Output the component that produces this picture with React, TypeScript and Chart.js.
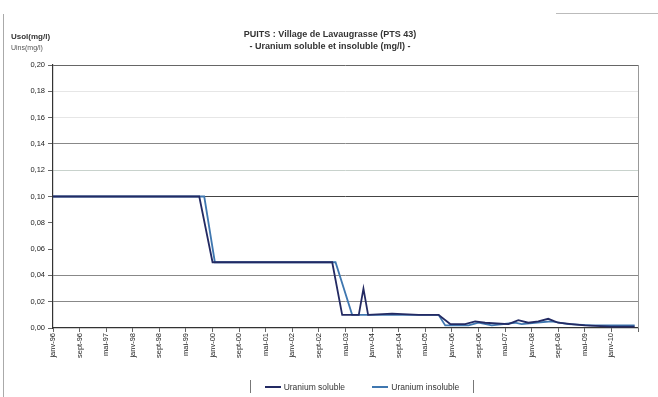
import React, { useEffect, useRef } from "react";
import { Chart, registerables } from "chart.js";

Chart.register(...registerables);

// Months counted from January 1996; tick labels every 8 months
const X_TICK_LABELS = [
  "janv-96", "sept-96", "mai-97", "janv-98", "sept-98", "mai-99",
  "janv-00", "sept-00", "mai-01", "janv-02", "sept-02", "mai-03",
  "janv-04", "sept-04", "mai-05", "janv-06", "sept-06", "mai-07",
  "janv-08", "sept-08", "mai-09", "janv-10",
];
const Y_TICK_LABELS = ["0,00", "0,02", "0,04", "0,06", "0,08", "0,10", "0,12", "0,14", "0,16", "0,18", "0,20"];

const SOLUBLE_MONTHS = [0, 44, 48, 84, 87, 92, 93.4, 94.8, 102, 110, 116, 119.5, 124, 127, 130, 137, 140, 143, 146, 149, 152, 156, 160, 168, 175];
const SOLUBLE_VALUES = [0.1, 0.1, 0.05, 0.05, 0.01, 0.01, 0.03, 0.01, 0.011, 0.01, 0.01, 0.003, 0.003, 0.005, 0.004, 0.003, 0.006, 0.004, 0.005, 0.007, 0.004, 0.003, 0.002, 0.001, 0.001];

const INSOLUBLE_MONTHS = [0, 45.5, 48.7, 85, 90, 100, 116, 118, 125, 128, 132, 139, 141, 145, 150, 155, 162, 170, 175];
const INSOLUBLE_VALUES = [0.1, 0.1, 0.05, 0.05, 0.01, 0.01, 0.01, 0.002, 0.002, 0.004, 0.002, 0.004, 0.003, 0.004, 0.005, 0.003, 0.002, 0.002, 0.002];

const SOLUBLE_COLOR = "#232a63";
const INSOLUBLE_COLOR = "#3f77b0";

const FONT = "'Liberation Sans', Arial, sans-serif";

const gridShade = (i: number) => {
  if (i === 10) return "#666";
  if (i === 5) return "#444";
  if (i === 7 || i === 2 || i === 1) return "#888";
  if (i === 6) return "#c8d2cc";
  if (i === 8 || i === 9) return "#e6e6e6";
  return "rgba(0,0,0,0)";
};

const plotBorder = {
  id: "plotBorder",
  afterDraw(chart: any) {
    const { ctx, chartArea } = chart;
    ctx.save();
    ctx.strokeStyle = "#999";
    ctx.lineWidth = 1;
    ctx.beginPath();
    ctx.moveTo(chartArea.right + 0.5, chartArea.top);
    ctx.lineTo(chartArea.right + 0.5, chartArea.bottom);
    ctx.stroke();
    ctx.restore();
  },
};

export default function App() {
  const canvasRef = useRef<HTMLCanvasElement | null>(null);

  useEffect(() => {
    const canvas = canvasRef.current;
    if (!canvas) return;
    const chart = new Chart(canvas, {
      type: "line",
      data: {
        datasets: [
          {
            label: "Uranium soluble",
            data: SOLUBLE_MONTHS.map((m, i) => ({ x: m, y: SOLUBLE_VALUES[i] })),
            borderColor: SOLUBLE_COLOR,
            borderWidth: 1.8,
            pointRadius: 0,
            tension: 0,
          },
          {
            label: "Uranium insoluble",
            data: INSOLUBLE_MONTHS.map((m, i) => ({ x: m, y: INSOLUBLE_VALUES[i] })),
            borderColor: INSOLUBLE_COLOR,
            borderWidth: 1.8,
            pointRadius: 0,
            tension: 0,
          },
        ],
      },
      options: {
        responsive: false,
        animation: false,
        layout: { padding: { top: 65, right: 20, bottom: 0, left: 0 } },
        plugins: {
          legend: { display: false },
          title: { display: false },
          tooltip: { enabled: false },
        },
        scales: {
          x: {
            type: "linear",
            min: 0,
            max: 176,
            afterFit: (s: any) => {
              s.height = 69;
            },
            border: { color: "#333", width: 1.2 },
            grid: { drawOnChartArea: false, drawTicks: true, tickLength: 4, color: "#666" },
            ticks: {
              stepSize: 8,
              autoSkip: false,
              minRotation: 90,
              maxRotation: 90,
              padding: 1,
              color: "#222",
              font: { family: FONT, size: 7.5 },
              callback: (v: any) => X_TICK_LABELS[Math.round(Number(v) / 8)] ?? "",
            },
          },
          y: {
            min: 0,
            max: 0.2,
            afterFit: (s: any) => {
              s.width = 53;
            },
            border: { color: "#333", width: 1.2 },
            grid: {
              tickLength: 5,
              color: (c: any) => gridShade(Math.round((c.tick?.value ?? 0) / 0.02)),
              tickColor: "#666",
            },
            ticks: {
              stepSize: 0.02,
              padding: 3,
              color: "#222",
              font: { family: FONT, size: 7.5 },
              callback: (v: any) => Y_TICK_LABELS[Math.round(Number(v) / 0.02)] ?? "",
            },
          },
        },
      },
      plugins: [plotBorder],
    } as any);
    return () => chart.destroy();
  }, []);

  const legendItem = (color: string, text: string) => (
    <span style={{ display: "inline-flex", alignItems: "center" }}>
      <span style={{ display: "inline-block", width: 16, height: 2, background: color, marginRight: 3 }} />
      <span>{text}</span>
    </span>
  );

  return (
    <div style={{ position: "absolute", left: 0, top: 0, width: 658, height: 397, background: "#fff", fontFamily: FONT, overflow: "hidden" }}>
      <canvas ref={canvasRef} width={658} height={397} style={{ position: "absolute", left: 0, top: 0 }} />
      {/* page edges */}
      <div style={{ position: "absolute", left: 3, top: 14, width: 1, height: 383, background: "#aaa" }} />
      <div style={{ position: "absolute", left: 556, top: 13, width: 102, height: 1, background: "#bbb" }} />
      {/* axis caption */}
      <div style={{ position: "absolute", left: 11, top: 32, fontSize: 8, fontWeight: "bold", color: "#333", lineHeight: "10px" }}>Usol(mg/l)</div>
      <div style={{ position: "absolute", left: 11, top: 43, fontSize: 7, color: "#555", lineHeight: "10px" }}>Uins(mg/l)</div>
      {/* title */}
      <div style={{ position: "absolute", left: 130, width: 400, top: 28, textAlign: "center", fontSize: 9, fontWeight: "bold", color: "#333", lineHeight: "12px" }}>
        <div>PUITS : Village de Lavaugrasse (PTS 43)</div>
        <div>- Uranium soluble et insoluble (mg/l) -</div>
      </div>
      {/* legend */}
      <div style={{ position: "absolute", left: 250, width: 222, top: 380, height: 13, display: "flex", alignItems: "center", justifyContent: "space-around", fontSize: 8.5, color: "#333", borderLeft: "1px solid #777", borderRight: "1px solid #777" }}>
        {legendItem(SOLUBLE_COLOR, "Uranium soluble")}
        {legendItem(INSOLUBLE_COLOR, "Uranium insoluble")}
      </div>
    </div>
  );
}
